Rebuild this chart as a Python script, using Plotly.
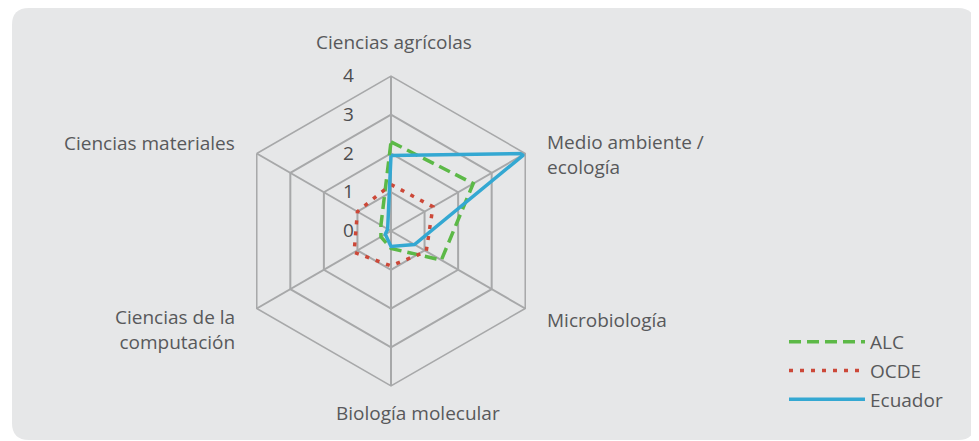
import plotly.graph_objects as go

# --- datos ---
categorias = [
    "Ciencias agrícolas",
    "Medio ambiente / ecología",
    "Microbiología",
    "Biología molecular",
    "Ciencias de la computación",
    "Ciencias materiales",
]
etiquetas = [
    "Ciencias agrícolas",
    "Medio ambiente /<br>ecología",
    "Microbiología",
    "Biología molecular",
    "Ciencias de la<br>computación",
    "Ciencias materiales",
]
alc = [2.3, 2.45, 1.5, 0.45, 0.3, 0.3]
ocde = [1.2, 1.25, 1.05, 0.9, 1.1, 1.0]
ecuador = [1.95, 4.0, 0.7, 0.4, 0.17, 0.1]
radial_ticks = [0, 1, 2, 3, 4]

W, H = 979, 441
GRIS_TXT = "#58595b"
GRIS_GRID = "#a7a8a9"
FONDO = "#e6e7e8"
FUENTE = "Open Sans, sans-serif"


def cerrar(v):
    return v + v[:1]


fig = go.Figure()
series = [
    ("ALC", alc, "#5cb947", "12px,6px"),
    ("OCDE", ocde, "#cc4838", "4px,7px"),
    ("Ecuador", ecuador, "#34a8d2", "solid"),
]
for nombre, vals, color, dash in series:
    fig.add_trace(go.Scatterpolar(
        r=cerrar(vals),
        theta=cerrar(categorias),
        mode="lines",
        name=nombre,
        legendgroup=nombre,
        line=dict(color=color, width=3.5, dash=dash),
    ))

# fondo gris con esquinas redondeadas (coordenadas en px de la figura)
x0, x1 = 4 / W, 967 / W
y0, y1 = 1 - 432 / H, 1.0
rx, ry = 17 / W, 17 / H
path = (
    f"M{x0 + rx},{y1} L{x1 - rx},{y1} Q{x1},{y1} {x1},{y1 - ry} "
    f"L{x1},{y0 + ry} Q{x1},{y0} {x1 - rx},{y0} "
    f"L{x0 + rx},{y0} Q{x0},{y0} {x0},{y0 + ry} "
    f"L{x0},{y1 - ry} Q{x0},{y1} {x0 + rx},{y1} Z"
)
fig.add_shape(type="path", path=path, xref="paper", yref="paper",
              fillcolor=FONDO, line=dict(width=0), layer="below")

# etiquetas de categorías (posición en px, alineación)
pos_etiquetas = [
    (386, 34, "center"),
    (537, 147, "left"),
    (537, 312, "left"),
    (410, 405, "center"),
    (229, 321, "right"),
    (229, 135, "right"),
]
for texto, (px, py, anc) in zip(etiquetas, pos_etiquetas):
    fig.add_annotation(
        text=texto, x=px / W, y=1 - py / H, xref="paper", yref="paper",
        xanchor=anc, yanchor="middle", align=anc, showarrow=False,
        font=dict(size=19, color=GRIS_TXT),
    )

cx, cy, R = 383, 223, 155
fig.update_layout(
    width=W, height=H,
    margin=dict(l=0, r=0, t=0, b=0),
    paper_bgcolor="white",
    font=dict(family=FUENTE, size=19, color=GRIS_TXT),
    polar=dict(
        domain=dict(x=[(cx - R) / W, (cx + R) / W],
                    y=[1 - (cy + R) / H, 1 - (cy - R) / H]),
        bgcolor="rgba(0,0,0,0)",
        gridshape="linear",
        angularaxis=dict(
            direction="clockwise", rotation=90,
            showticklabels=False, ticks="",
            showline=True, linecolor=GRIS_GRID, linewidth=1.5,
            gridcolor=GRIS_GRID, gridwidth=1.5,
        ),
        radialaxis=dict(
            range=[0, 4], tickvals=radial_ticks, angle=90,
            side="counterclockwise", tickangle=90,
            showline=False, gridcolor=GRIS_GRID, gridwidth=1.5,
            ticks="outside", ticklen=30, tickcolor="rgba(0,0,0,0)",
            tickfont=dict(size=19, color="#4d4d4f"),
        ),
    ),
    legend=dict(
        x=776 / W, y=1 - 315 / H, xanchor="left", yanchor="top",
        bgcolor="rgba(0,0,0,0)", tracegroupgap=1, itemwidth=76,
        font=dict(size=19, color=GRIS_TXT),
    ),
)

fig.write_html("out.html")
